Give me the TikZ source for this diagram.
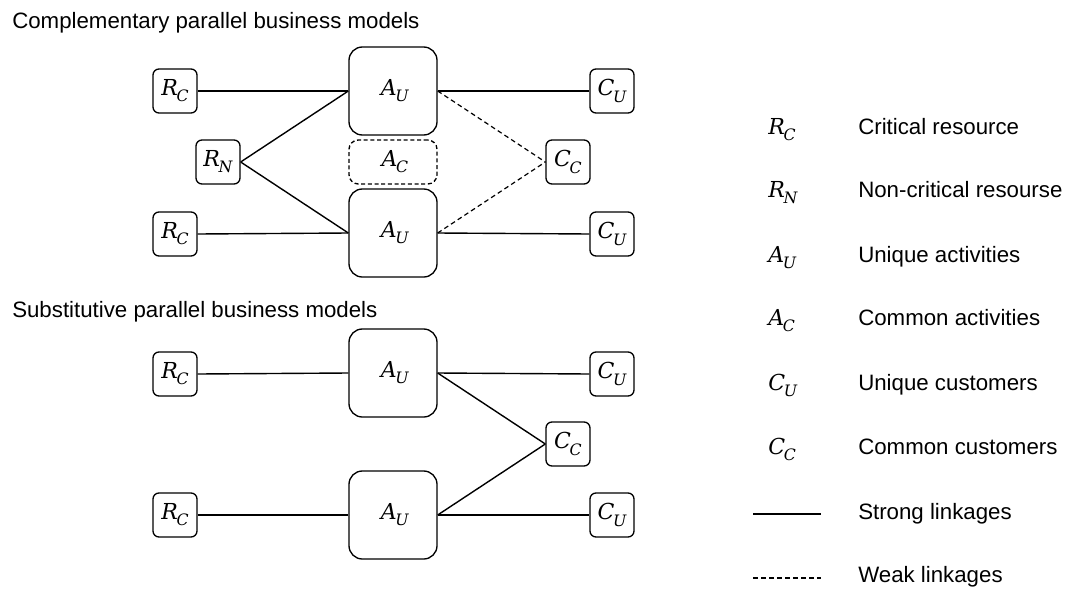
\documentclass[tikz,border=0pt]{standalone}
\usepackage{fontspec}
\setsansfont{Liberation Sans}
\newfontfamily\lblfont{DejaVu Serif}
% italic letter with an italic subscript
\newcommand\lbl[2]{{\lblfont\itshape #1\kern-0.06em\raisebox{-0.28em}{\fontsize{11.8}{14}\selectfont #2}}}
\begin{document}
\begin{tikzpicture}[x=0.75pt,y=-0.75pt,
  lnk/.style={line width=1.05pt},
  weak/.style={line width=0.9pt, dash pattern=on 3.5pt off 2.5pt},
  lblsize/.style={font=\fontsize{16.5}{19}\selectfont},
  sbox/.style={draw, line width=1pt, rounded corners=4.5pt, minimum width=33pt, minimum height=33pt, inner sep=0pt, lblsize},
  bbox/.style={draw, line width=1pt, rounded corners=10pt, minimum width=66pt, minimum height=66pt, inner sep=0pt, lblsize},
  cbox/.style={draw, line width=1pt, dash pattern=on 3pt off 2pt, rounded corners=7pt, minimum width=66pt, minimum height=33pt, inner sep=0pt, lblsize},
  ttl/.style={anchor=base west, inner sep=0pt, font=\sffamily\fontsize{16.7}{20}\selectfont},
  sym/.style={anchor=base west, inner sep=0pt, lblsize},
  txt/.style={anchor=base west, inner sep=0pt, font=\sffamily\fontsize{16.7}{20}\selectfont}]
\useasboundingbox (0,0) rectangle (1069,589);

% section titles
\node[ttl] (t1) at (12,28) {Complementary parallel business models};
\node[ttl] (t2) at (12,317) {Substitutive parallel business models};

% complementary parallel business models
\node[sbox] (rc1) at (175,91) {\lbl{R}{C}};
\node[sbox] (rn)  at (218,162) {\lbl{R}{N}};
\node[sbox] (rc2) at (175,234) {\lbl{R}{C}};
\node[bbox] (au1) at (393,91) {\,\lbl{A}{U}};
\node[cbox] (ac)  at (393,162) {\,\lbl{A}{C}};
\node[bbox] (au2) at (393,233) {\,\lbl{A}{U}};
\node[sbox] (cu1) at (612,91) {\lbl{C}{U}};
\node[sbox] (cc1) at (568,162) {\lbl{C}{C}};
\node[sbox] (cu2) at (612,234) {\lbl{C}{U}};

\draw[lnk] (rc1.east) -- (au1.west);
\draw[lnk] (rc2.east) -- (au2.west);
\draw[lnk] (rn.east) -- (au1.west);
\draw[lnk] (rn.east) -- (au2.west);
\draw[lnk] (au1.east) -- (cu1.west);
\draw[lnk] (au2.east) -- (cu2.west);
\draw[weak] (au1.east) -- (cc1.west);
\draw[weak] (au2.east) -- (cc1.west);

% substitutive parallel business models
\node[sbox] (rc3) at (175,374) {\lbl{R}{C}};
\node[sbox] (rc4) at (175,515) {\lbl{R}{C}};
\node[bbox] (au3) at (393,373) {\,\lbl{A}{U}};
\node[bbox] (au4) at (393,515) {\,\lbl{A}{U}};
\node[sbox] (cu3) at (612,374) {\lbl{C}{U}};
\node[sbox] (cc2) at (568,444) {\lbl{C}{C}};
\node[sbox] (cu4) at (612,515) {\lbl{C}{U}};

\draw[lnk] (rc3.east) -- (au3.west);
\draw[lnk] (rc4.east) -- (au4.west);
\draw[lnk] (au3.east) -- (cu3.west);
\draw[lnk] (au4.east) -- (cu4.west);
\draw[lnk] (au3.east) -- (cc2.west);
\draw[lnk] (au4.east) -- (cc2.west);

% legend
\node[sym] (l1) at (768,134) {\lbl{R}{C}};
\node[txt] (d1) at (858,134) {Critical resource};
\node[sym] (l2) at (768,197) {\lbl{R}{N}};
\node[txt] (d2) at (858,197) {Non-critical resourse};
\node[sym] (l3) at (768,262) {\lbl{A}{U}};
\node[txt] (d3) at (858,262) {Unique activities};
\node[sym] (l4) at (768,325) {\lbl{A}{C}};
\node[txt] (d4) at (858,325) {Common activities};
\node[sym] (l5) at (768,390) {\lbl{C}{U}};
\node[txt] (d5) at (858,390) {Unique customers};
\node[sym] (l6) at (768,454) {\lbl{C}{C}};
\node[txt] (d6) at (858,454) {Common customers};
\node[txt] (d7) at (858,519) {Strong linkages};
\node[txt] (d8) at (858,582) {Weak linkages};
\coordinate (s1) at (753,514);
\coordinate (s2) at (821,514);
\coordinate (w1) at (753,578);
\coordinate (w2) at (821,578);
\draw[lnk] (s1) -- (s2);
\draw[weak] (w1) -- (w2);
\end{tikzpicture}
\end{document}
